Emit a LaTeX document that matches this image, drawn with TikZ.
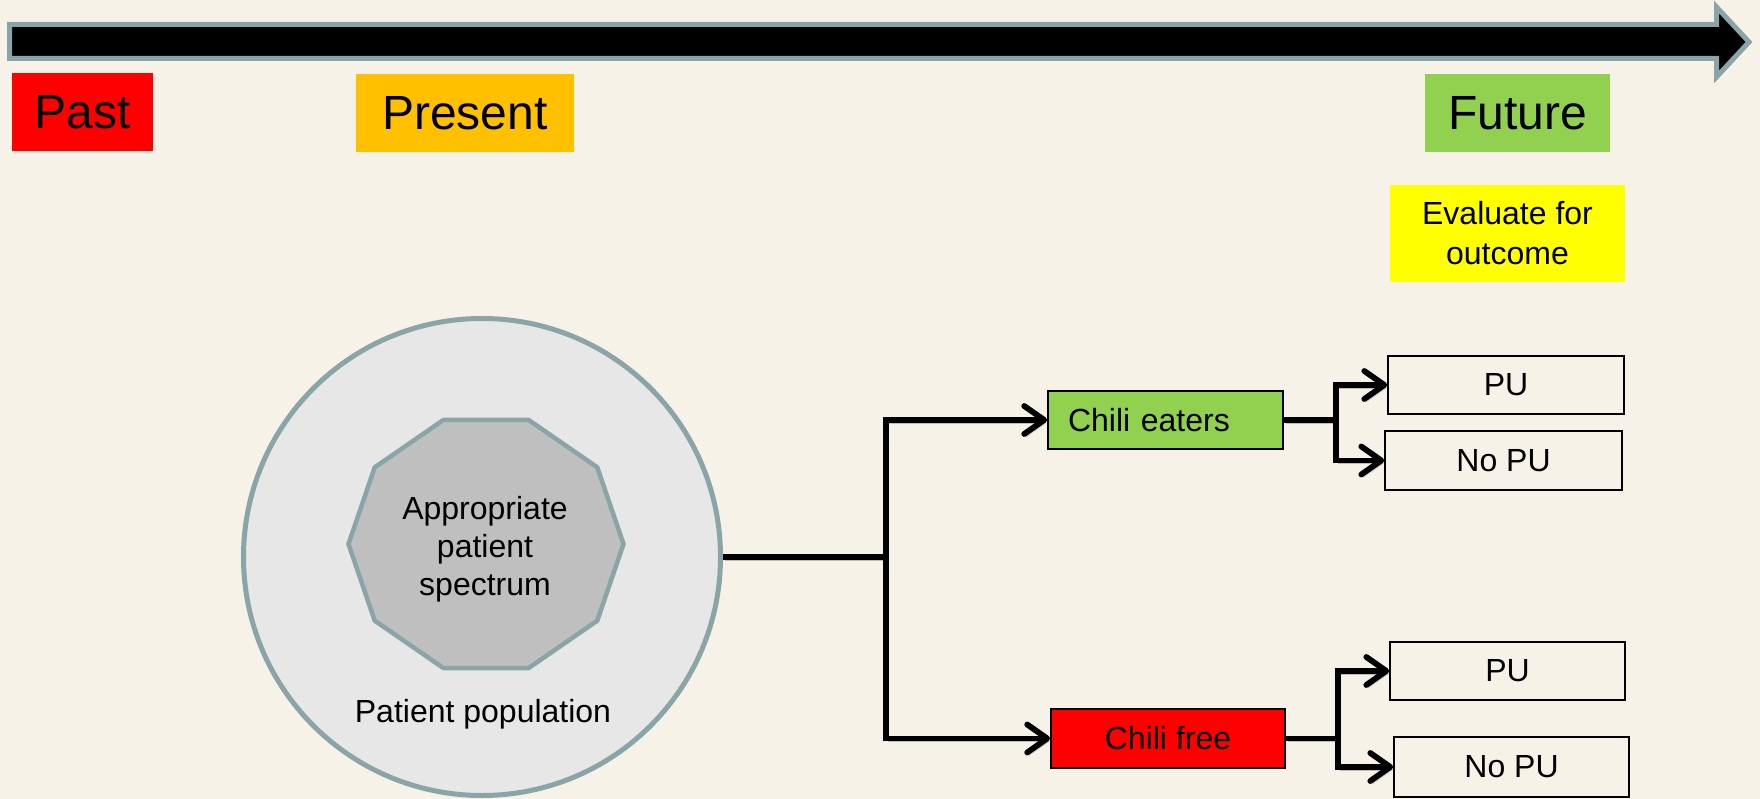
\documentclass[tikz,border=0pt]{standalone}
\usepackage{fontspec}
\setmainfont{Liberation Sans}
\usetikzlibrary{arrows.meta}

\definecolor{paper}{HTML}{F6F2E8}
\definecolor{rim}{HTML}{8AA5A7}
\definecolor{popfill}{HTML}{E7E7E7}
\definecolor{specfill}{HTML}{BFBFBF}
\definecolor{pastred}{HTML}{FF0000}
\definecolor{nowamber}{HTML}{FFC000}
\definecolor{leafgreen}{HTML}{92D050}
\definecolor{flagyellow}{HTML}{FFFF00}

\tikzset{
  era/.style={inner sep=0pt, minimum height=78pt, font=\fontsize{48}{56}\selectfont},
  smalltext/.style={font=\fontsize{32}{38}\selectfont},
  arm/.style={draw=black, line width=1.8pt, minimum width=235pt, minimum height=58pt,
    inner sep=0pt, smalltext},
  outcome/.style={draw=black, line width=1.6pt, minimum width=236pt, minimum height=58pt,
    inner sep=0pt, smalltext},
  conn/.style={draw=black, line width=5.8pt,
    preaction={draw=black, opacity=0.22, transform canvas={shift={(2pt,-3pt)}}}},
  tip/.style={-{Straight Barb[length=20pt,width=28pt,round]}}
}

\begin{document}
\begin{tikzpicture}[x=1pt,y=-1pt]
  % page
  \fill[paper] (0,0) rectangle (1760,799);
  \useasboundingbox (0,0) rectangle (1760,799);

  % time arrow
  \draw[rim, line width=5pt, fill=black, line join=miter]
    (9.5,24.5) -- (1716.5,24.5) -- (1716.5,7) -- (1749,42)
    -- (1716.5,77) -- (1716.5,58.5) -- (9.5,58.5) -- cycle;

  % eras
  \node[era, fill=pastred, minimum width=141pt] (past) at (82.5,112) {Past};
  \node[era, fill=nowamber, minimum width=218pt] (present) at (465,113)
    {Present\hspace{12pt}};
  \node[era, fill=leafgreen, minimum width=185pt] (future) at (1517.5,113)
    {Future};
  \node[smalltext, fill=flagyellow, minimum width=235pt, minimum height=97pt,
        inner sep=0pt, align=center, font=\fontsize{32}{40}\selectfont] (evaluate)
    at (1507.5,233.5) {Evaluate for\\outcome};

  % population and spectrum
  \node[circle, draw=rim, line width=5pt, fill=popfill, minimum size=477pt,
        inner sep=0pt] (pop) at (482,557) {};
  \draw[rim, line width=4.5pt, fill=specfill, line join=miter]
    (623.5,544) \foreach \a in {36,72,...,324}
      { -- ({486+137.5*cos(\a)},{544+130.5*sin(\a)}) } -- cycle;
  \node[smalltext, align=center] (spec) at (485,549)
    {Appropriate\\patient\\spectrum};
  \node[smalltext] (poplabel) at (483,714) {Patient population};

  % study arms
  \node[arm, fill=leafgreen, inner xsep=20pt, text width=195pt, align=left]
    (eat) at (1165.5,420) {Chili eaters};
  \node[arm, fill=pastred, minimum width=234pt, minimum height=59pt]
    (free) at (1168,738.5) {Chili free};

  % outcomes
  \node[outcome] (pu1) at (1506,385) {PU};
  \node[outcome, minimum width=237pt, minimum height=59pt] (nopu1) at (1503.5,460.5) {No PU};
  \node[outcome, minimum width=235pt] (pu2) at (1507.5,671) {PU};
  \node[outcome, minimum width=235pt, minimum height=60pt] (nopu2) at (1511.5,767) {No PU};

  % branch points
  \coordinate (split) at (886,557);
  \coordinate (eatsplit) at (1336,420);
  \coordinate (freesplit) at (1338,738.5);

  % connectors
  \draw[conn] (pop.east) -- (split);
  \draw[conn, tip] (split) |- (eat.west);
  \draw[conn, tip] (split) |- (free.west);

  \draw[conn] (eat.east) -- (eatsplit);
  \draw[conn, tip] (eatsplit) |- (pu1.west);
  \draw[conn, tip] (eatsplit) |- (nopu1.west);

  \draw[conn] (free.east) -- (freesplit);
  \draw[conn, tip] (freesplit) |- (pu2.west);
  \draw[conn, tip] (freesplit) |- (nopu2.west);
\end{tikzpicture}
\end{document}
